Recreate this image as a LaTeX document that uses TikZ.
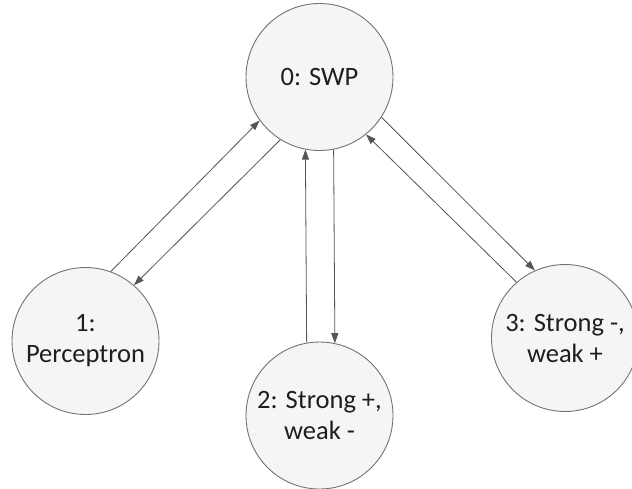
\documentclass[tikz,border=0pt]{standalone}
\usepackage{fontspec}
\setmainfont{Carlito}
\usetikzlibrary{arrows.meta}
\definecolor{edgegray}{RGB}{115,115,115}
\definecolor{fillgray}{RGB}{245,245,245}
\definecolor{txt}{RGB}{30,30,30}
\definecolor{arrgray}{RGB}{85,85,85}
\tikzset{
  state/.style={circle, draw=edgegray, line width=0.9pt, fill=fillgray,
    minimum size=147pt, inner sep=0pt, align=center, text=txt,
    font=\fontsize{26.5}{31}\selectfont},
  link/.style={draw=arrgray, line width=0.8pt,
    -{Triangle[length=10pt,width=7pt]}}
}
\begin{document}
\begin{tikzpicture}[x=1pt,y=-1pt]
\clip (0,0) rectangle (632,488);
\fill[white] (0,0) rectangle (632,488);
\node[state] (n0) at (319.5,77) {0: SWP};
\node[state] (n1) at (85.5,341) {1:\\Perceptron};
\node[state] (n2) at (319.5,415.5) {2: Strong +,\\weak -};
\node[state] (n3) at (565,338) {3: Strong -,\\weak +};
\draw[link] (n1.70.5) -- (n0.216);
\draw[link] (n0.238.6) -- (n1.49);
\draw[link] (n2.100.6) -- (n0.259.4);
\draw[link] (n0.281.4) -- (n2.78.6);
\draw[link] (n3.131.9) -- (n0.309);
\draw[link] (n0.327.1) -- (n3.114.5);
\end{tikzpicture}
\end{document}
